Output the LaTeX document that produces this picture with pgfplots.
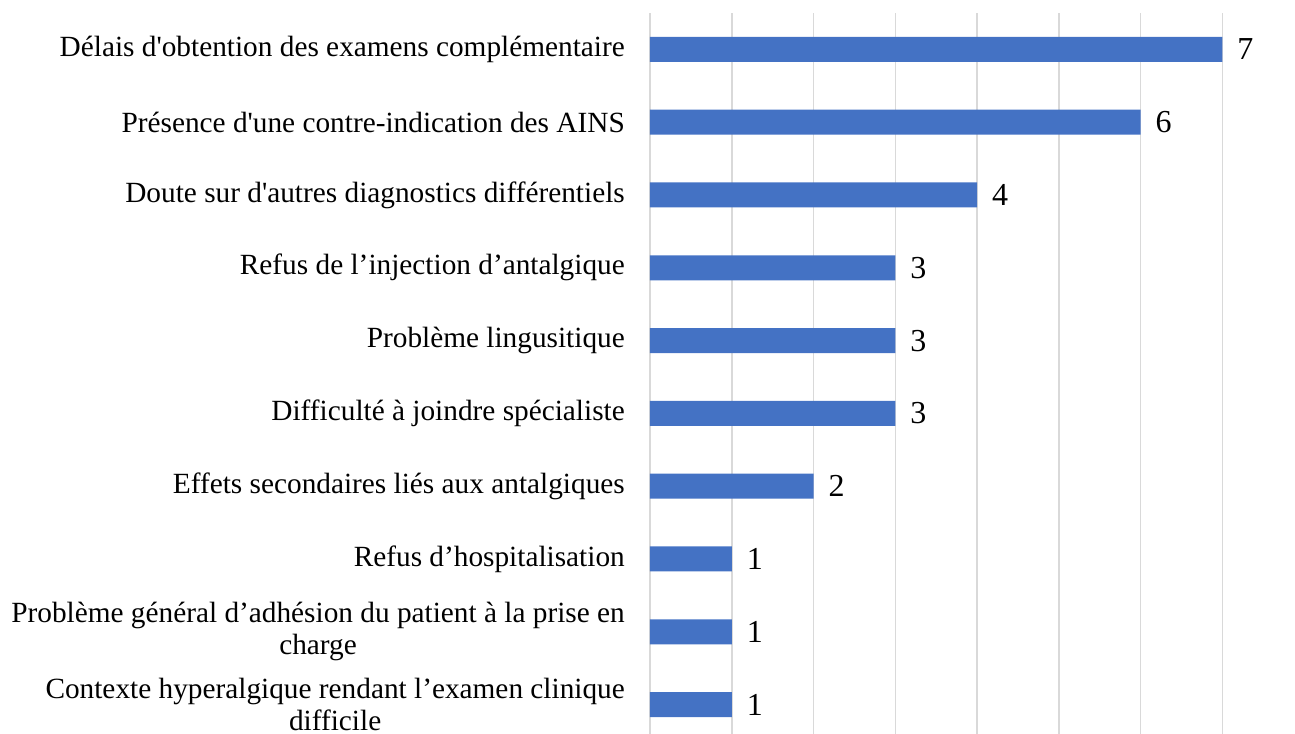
\documentclass[border=0pt]{standalone}
\usepackage{fontspec}
\setmainfont{Liberation Serif}[Ligatures=TeXOff]
\usepackage{pgfplots}
\pgfplotsset{compat=1.18}
\usetikzlibrary{calc}
\definecolor{barblue}{HTML}{4472C4}
\definecolor{gridgray}{HTML}{D9D9D9}
\newcommand{\lab}{\fontsize{29.3}{32}\selectfont}
\newcommand{\vlab}{\fontsize{32}{34}\selectfont}

\begin{document}
\begin{tikzpicture}
\begin{axis}[
  name=ax,
  scale only axis,
  width=572.3pt, height=721pt,
  xbar, bar width=25pt, bar shift=0pt,
  xmin=0, xmax=7,
  ymin=-0.404, ymax=9.5,
  xtick={0,...,7}, xticklabels={},
  ytick={0,...,9},
  yticklabels={
    {Contexte hyperalgique rendant l’examen clinique\\difficile},
    {Problème général d’adhésion du patient à la prise en\\charge},
    Refus d’hospitalisation,
    Effets secondaires liés aux antalgiques,
    Difficulté à joindre spécialiste,
    Problème lingusitique,
    Refus de l’injection d’antalgique,
    Doute sur d'autres diagnostics différentiels,
    Présence d'une contre-indication des AINS,
    Délais d'obtention des examens complémentaire},
  yticklabel style={font=\lab, align=center, inner xsep=0pt, xshift=-25pt},
  major tick length=0pt,
  axis line style={draw=none},
  xmajorgrids, grid style={gridgray, line width=1.5pt},
  /pgf/number format/assume math mode=true,
  nodes near coords,
  nodes near coords style={font=\vlab, inner xsep=0pt, xshift=15pt, black},
  clip=false,
]
\addplot[fill=barblue, draw=none] coordinates {
  (1,0) (1,1) (1,2) (2,3) (3,4) (3,5) (3,6) (4,7) (6,8) (7,9)
};
\end{axis}
\pgfresetboundingbox
\path[use as bounding box] ($(ax.south west)+(-650pt,0pt)$) rectangle ($(ax.north east)+(72.7pt,13pt)$);
\end{tikzpicture}
\end{document}
